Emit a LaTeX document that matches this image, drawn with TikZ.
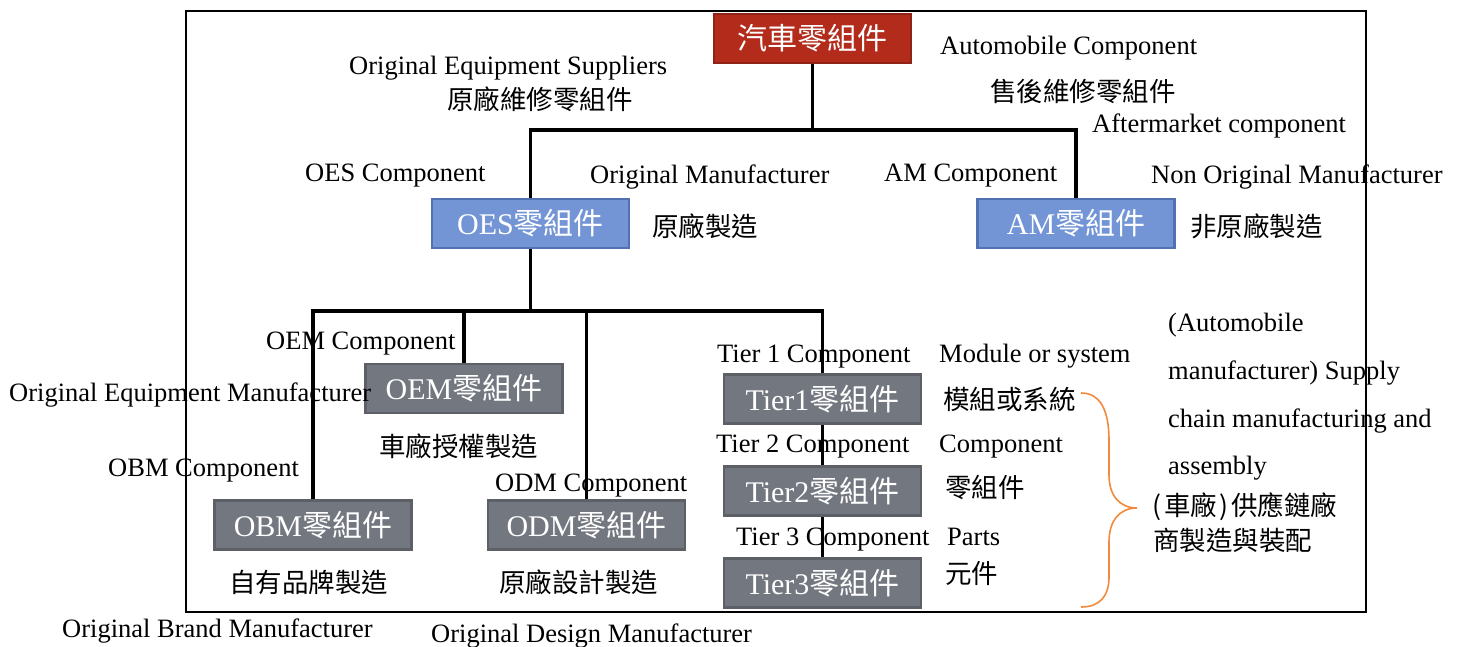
\documentclass[tikz,border=0pt]{standalone}
\usepackage{fontspec}
\setmainfont{Liberation Serif}
\newfontfamily\cjk{Noto Sans CJK TC}
\definecolor{boxred}{HTML}{B22B1B}
\definecolor{redline}{HTML}{8F2416}
\definecolor{boxblue}{HTML}{7395D6}
\definecolor{blueline}{HTML}{5271B0}
\definecolor{boxgray}{HTML}{737780}
\definecolor{grayline}{HTML}{5D6067}
\definecolor{bracecol}{HTML}{F28A3C}
\begin{document}
\begin{tikzpicture}[x=1pt,y=-1pt,
  comp/.style={draw, line width=2.5pt, minimum width=197pt, minimum height=49pt,
    inner sep=0pt, text=white, font=\fontsize{30}{32}\selectfont},
  redbox/.style={comp, fill=boxred, draw=redline},
  bluebox/.style={comp, fill=boxblue, draw=blueline},
  graybox/.style={comp, fill=boxgray, draw=grayline},
  lbl/.style={inner sep=0pt, anchor=base west, font=\fontsize{26.5}{30}\selectfont},
  zh/.style={inner sep=0pt, anchor=west, font=\fontsize{26.5}{30}\selectfont\cjk},
  link/.style={line width=3.3pt},
  frame/.style={line width=1.5pt}]
\useasboundingbox (0,0) rectangle (1459,647);

% outer frame
\draw[frame] (186,11) rectangle (1366,612);

% labels
\node[lbl] (oesup) at (349,75) {Original Equipment Suppliers};
\node[zh]  (oesupzh) at (447,99) {原廠維修零組件};
\node[lbl] (autoen) at (940,55) {Automobile Component};
\node[zh]  (amzh) at (990,91) {售後維修零組件};
\node[lbl] (amen) at (1092,133) {Aftermarket component};
\node[lbl] (oescomp) at (305,182) {OES Component};
\node[lbl] (origman) at (590,184) {Original Manufacturer};
\node[zh]  (origmanzh) at (652,226) {原廠製造};
\node[lbl] (amcomp) at (884,182) {AM Component};
\node[lbl] (nonorig) at (1151,184) {Non Original Manufacturer};
\node[zh]  (nonorigzh) at (1190,226) {非原廠製造};
\node[lbl] (oemcomp) at (266,349) {OEM Component};
\node[zh]  (oemzh) at (379,446) {車廠授權製造};
\node[lbl] (obmcomp) at (108,476) {OBM Component};
\node[lbl] (odmcomp) at (495,491) {ODM Component};
\node[zh]  (obmzh) at (229,582) {自有品牌製造};
\node[zh]  (odmzh) at (499,582) {原廠設計製造};
\node[lbl] (obmman) at (62,637) {Original Brand Manufacturer};
\node[lbl] (odmman) at (431,642) {Original Design Manufacturer};
\node[lbl] (t1en) at (717,362) {Tier 1 Component};
\node[lbl] (t1desc) at (939,362) {Module or system};
\node[zh]  (t1zh) at (943,399) {模組或系統};
\node[lbl] (t2en) at (716,452) {Tier 2 Component};
\node[lbl] (t2desc) at (939,452) {Component};
\node[zh]  (t2zh) at (945,487) {零組件};
\node[lbl] (t3en) at (736,545) {Tier 3 Component};
\node[lbl] (t3desc) at (947,545) {Parts};
\node[zh]  (t3zh) at (945,573) {元件};
\node[lbl] (sc1) at (1168,331) {(Automobile};
\node[lbl] (sc2) at (1168,379) {manufacturer) Supply};
\node[lbl] (sc3) at (1168,427) {chain manufacturing and};
\node[lbl] (sc4) at (1168,474) {assembly};
\node[zh]  (sczh1) at (1150,507)
  {\makebox[14pt]{(}車廠\makebox[14pt]{)}供應鏈廠};
\node[zh]  (sczh2) at (1153,540) {商製造與裝配};

% junctions of the tree
\coordinate (j1) at (812.5,130);
\coordinate (j2) at (530.5,311);

% component boxes
\node[redbox]  (auto) at (812.5,38.5) {{\cjk 汽車零組件}};
\node[bluebox] (oes)  at (530.5,223.5) {OES{\cjk 零組件}};
\node[bluebox] (am)   at (1076,223.5) {AM{\cjk 零組件}};
\node[graybox] (oem)  at (464,388.5) {OEM{\cjk 零組件}};
\node[graybox] (obm)  at (313,525) {OBM{\cjk 零組件}};
\node[graybox] (odm)  at (586.5,525) {ODM{\cjk 零組件}};
\node[graybox] (t1)   at (822.5,399) {Tier1{\cjk 零組件}};
\node[graybox] (t2)   at (822.5,491) {Tier2{\cjk 零組件}};
\node[graybox] (t3)   at (822.5,583) {Tier3{\cjk 零組件}};

% label that runs onto the OEM box
\node[lbl] (oemman) at (9,401) {Original Equipment Manufacturer};

% tree connectors
\draw[link] (auto.south) -- (j1);
\draw[link] (oes.north) |- (j1) -| (am.north);
\draw[link] (oes.south) -- (j2);
\draw[link] (obm.north) |- (j2) -| (t1.north);
\draw[link] (oem.north) -- (oem.north |- j2);
\draw[link] (odm.north) -- (odm.north |- j2);
\draw[link] (t1.south) -- (t2.north);
\draw[link] (t2.south) -- (t3.north);

% brace grouping the tiers
\draw[bracecol, line width=1.6pt]
  (1081,393) .. controls (1100,393) and (1109,410) .. (1109,440)
  -- (1109,475) .. controls (1109,496) and (1120,508) .. (1137,508)
  .. controls (1120,508) and (1109,520) .. (1109,542)
  -- (1109,577) .. controls (1109,596) and (1100,607) .. (1081,607);
\end{tikzpicture}
\end{document}
